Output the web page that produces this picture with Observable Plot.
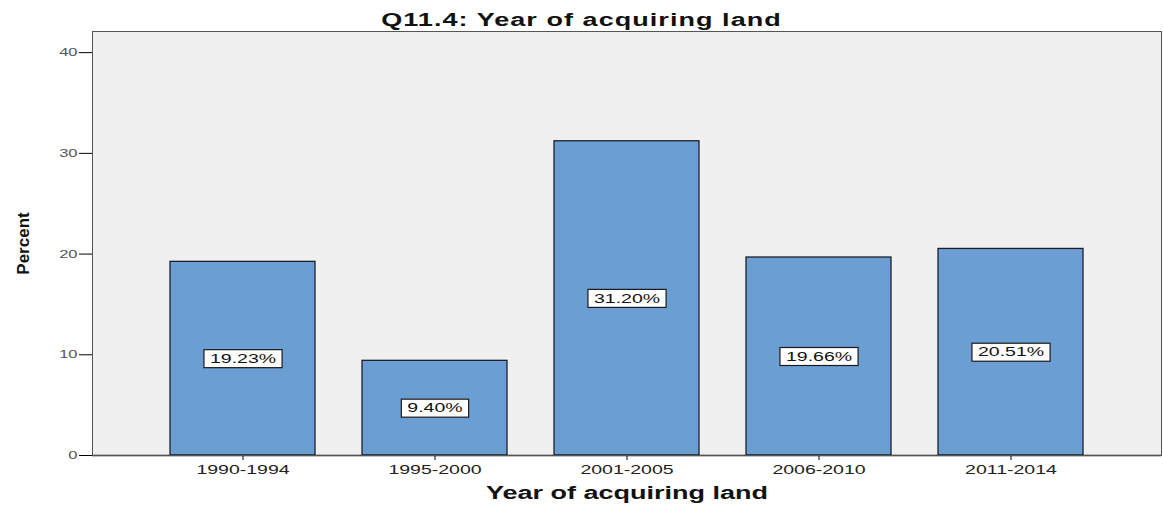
<!DOCTYPE html>
<html>
<head>
<meta charset="utf-8">
<script src="https://cdn.jsdelivr.net/npm/d3@7"></script>
<script src="https://cdn.jsdelivr.net/npm/@observablehq/plot@0.6"></script>
<style>
  html, body { margin: 0; padding: 0; background: #fff; }
  #title { height: 31px; line-height: 41px; overflow: visible; text-align: center; width: 1163px; white-space: nowrap; }
  #title span { display: inline-block; font: bold 18px "Liberation Sans", Arial, sans-serif; letter-spacing: 0.7px; color: #111; transform: scaleX(1.5); transform-origin: center; }
  svg text { font-family: "Liberation Sans", Arial, sans-serif; }
</style>
</head>
<body>
<div id="title"><span>Q11.4: Year of acquiring land</span></div>
<div id="chart"></div>
<script>
const categories = ["1990-1994", "1995-2000", "2001-2005", "2006-2010", "2011-2014"];
const percents = [19.23, 9.40, 31.20, 19.66, 20.51];
const yTicks = [0, 10, 20, 30, 40];
const xTitle = "Year of acquiring land";
const yTitle = "Percent";

const data = categories.map((c, i) => ({cat: c, v: percents[i]}));

const SX = 1.5; // horizontal glyph stretch seen in the reference

function boxedLabels(index, scales, values, dimensions, context, next) {
  const g = next(index, scales, values, dimensions, context);
  const canvas = document.createElement("canvas");
  const ctx = canvas.getContext("2d");
  ctx.font = '13px "Liberation Sans", Arial, sans-serif';
  const texts = Array.from(g.querySelectorAll("text"));
  texts.forEach((t, k) => {
    const i = index[k];
    const s = t.textContent;
    const w = ctx.measureText(s).width * SX + 12;
    const h = 18;
    const r = document.createElementNS("http://www.w3.org/2000/svg", "rect");
    r.setAttribute("x", values.x[i] - w / 2);
    r.setAttribute("y", values.y[i] - h / 2);
    r.setAttribute("width", w);
    r.setAttribute("height", h);
    r.setAttribute("fill", "#ffffff");
    r.setAttribute("stroke", "#1a1a1a");
    r.setAttribute("stroke-width", 1.2);
    g.insertBefore(r, t);
  });
  return g;
}

const chart = Plot.plot({
  width: 1163,
  height: 474,
  marginLeft: 92,
  marginRight: 2,
  marginTop: 0,
  marginBottom: 50,
  style: {background: "#fff", fontFamily: '"Liberation Sans", Arial, sans-serif'},
  x: {
    domain: categories,
    paddingInner: 0.247,
    paddingOuter: 0.4,
    label: null
  },
  y: {
    domain: [0, 42.1],
    ticks: yTicks,
    label: null
  },
  marks: [
    Plot.frame({fill: "#f0f0f0", stroke: "none"}),
    Plot.barY(data, {x: "cat", y: "v", fill: "#6b9fd4", stroke: "#1c1f2a", strokeWidth: 1.3}),
    Plot.text(data, {
      x: "cat", y: d => d.v / 2,
      text: d => d.v.toFixed(2) + "%",
      fontSize: 13, fill: "#111",
      render: boxedLabels
    }),
    Plot.axisX({tickSize: 5, tickPadding: 4, fontSize: 13, fill: "#222"}),
    Plot.axisY({ticks: yTicks, tickSize: 13, tickPadding: 2, fontSize: 11, fill: "#555"}),
    Plot.ruleY([0], {stroke: "#111", strokeWidth: 1.3}),
    Plot.frame({stroke: "#555", strokeWidth: 1}),
    Plot.text([xTitle], {
      frameAnchor: "bottom", dy: 43, text: d => d,
      fontSize: 18, fontWeight: "bold", fill: "#111"
    }),
    Plot.text([yTitle], {
      frameAnchor: "left", dx: -69, rotate: -90, textAnchor: "middle", text: d => d,
      fontSize: 17, fontWeight: "bold", fill: "#111"
    })
  ]
});

document.getElementById("chart").appendChild(chart);

// stretch glyphs horizontally (reference image is widened) without moving anchors
chart.querySelectorAll("text").forEach(t => {
  if (t.textContent === yTitle) return;
  const len = t.getComputedTextLength();
  if (len > 0) {
    t.setAttribute("textLength", len * SX);
    t.setAttribute("lengthAdjust", "spacingAndGlyphs");
  }
});
</script>
</body>
</html>
